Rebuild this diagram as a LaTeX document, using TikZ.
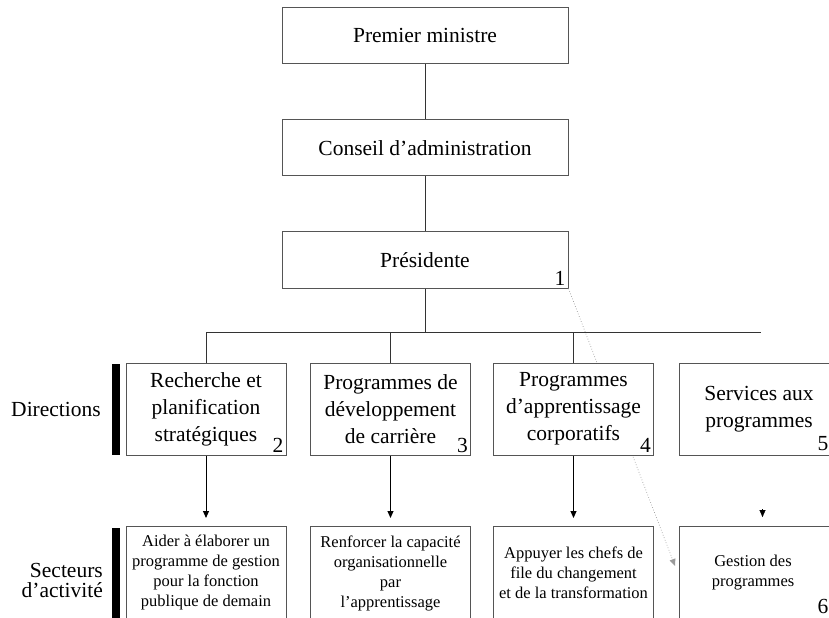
\documentclass[tikz,border=0pt]{standalone}
\usepackage{fontspec}
\setmainfont{Liberation Serif}
\usetikzlibrary{arrows.meta}
\definecolor{boxgray}{HTML}{555555}
\definecolor{linegray}{HTML}{333333}
\definecolor{dotgray}{HTML}{9A9A9A}
\begin{document}
\begin{tikzpicture}[x=1bp,y=-1bp,
  box/.style={draw=boxgray, line width=1bp, fill=white, align=center, inner sep=0pt},
  topbox/.style={box, minimum width=286bp, minimum height=56bp, font=\fontsize{21.5bp}{27bp}\selectfont},
  dirbox/.style={box, minimum width=160bp, minimum height=92bp, font=\fontsize{21.5bp}{27bp}\selectfont},
  secbox/.style={box, minimum width=160bp, minimum height=94bp, font=\fontsize{16.5bp}{20bp}\selectfont},
  num/.style={anchor=south east, inner xsep=3bp, inner ysep=3bp, font=\fontsize{21.5bp}{22bp}\selectfont},
  lbl/.style={align=right, anchor=east, inner sep=0pt, font=\fontsize{21.5bp}{20bp}\selectfont},
  conn/.style={draw=linegray, line width=1bp},
  arr/.style={draw=black, line width=1bp, -{Triangle[length=7bp,width=6bp]}},
  dotarr/.style={draw=dotgray, line width=0.7bp, dotted, -{Triangle[length=7bp,width=6bp]}},
  bar/.style={fill=black, draw=none}]
\useasboundingbox (0,0) rectangle (829,618);
\clip (0,0) rectangle (829,618);

% top chain boxes
\node[topbox] (pm) at (425,35.5) {Premier ministre};
\node[topbox] (ca) at (425,148) {Conseil d’administration};
\node[topbox] (pr) at (425,260) {Présidente};
\node[num] (n1) at (pr.south east) {1};

% bus
\coordinate (busc) at (425,332);
\coordinate (busl) at (206,332);
\coordinate (busr) at (761,332);

% dotted connector (drawn below boxes)
\coordinate (dotend) at (675,566);
\draw[dotarr] (pr.south east) -- (dotend);

\draw[conn] (pm.south) -- (ca.north);
\draw[conn] (ca.south) -- (pr.north);
\draw[conn] (pr.south) -- (busc);
\draw[conn] (busl) -- (busr);

% directions
\node[dirbox] (d1) at (206,409) {Recherche et\\planification\\stratégiques};
\node[dirbox] (d2) at (390.5,409) {Programmes de\\développement\\de carrière};
\node[dirbox] (d3) at (573.5,409) {Programmes\\d’apprentissage\\corporatifs};
\node[dirbox] (d4) at (759,409) {Services aux\\programmes};
\node[num] (n2) at (d1.south east) {2};
\node[num] (n3) at (d2.south east) {3};
\node[num] (n4) at (d3.south east) {4};
\node[num, inner sep=0pt] (n5) at (828.5,451) {5};

\draw[conn] (busl) -- (d1.north);
\draw[conn] (busl -| d2.north) -- (d2.north);
\draw[conn] (busl -| d3.north) -- (d3.north);

% secteurs
\node[secbox] (s1) at (206,573) {Aider à élaborer un\\programme de gestion\\pour la fonction\\publique de demain};
\node[secbox] (s2) at (390.5,573) {Renforcer la capacité\\organisationnelle\\par\\l’apprentissage};
\node[secbox] (s3) at (573.5,573) {Appuyer les chefs de\\file du changement\\et de la transformation};
\node[secbox] (s4) at (759,573) {\hspace*{-12bp}Gestion des\\\hspace*{-12bp}programmes};
\node[num, inner sep=0pt] (n6) at (828.5,614) {6};

% arrows
\coordinate (a1) at (206,518);
\coordinate (a2) at (390.5,518);
\coordinate (a3) at (573.5,518);
\coordinate (a4s) at (762.5,509);
\coordinate (a4) at (762.5,517);
\draw[arr] (d1.south) -- (a1);
\draw[arr] (d2.south) -- (a2);
\draw[arr] (d3.south) -- (a3);
\draw[arr, line width=0.1bp] (a4s) -- (a4);

% side labels and bars
\fill[bar] (112,364) rectangle (120,455);
\fill[bar] (112,528) rectangle (120,620);
\node[lbl] (ldir) at (101,409) {Directions};
\node[lbl] (lsec) at (103,580) {Secteurs\\d’activité};
\end{tikzpicture}
\end{document}
